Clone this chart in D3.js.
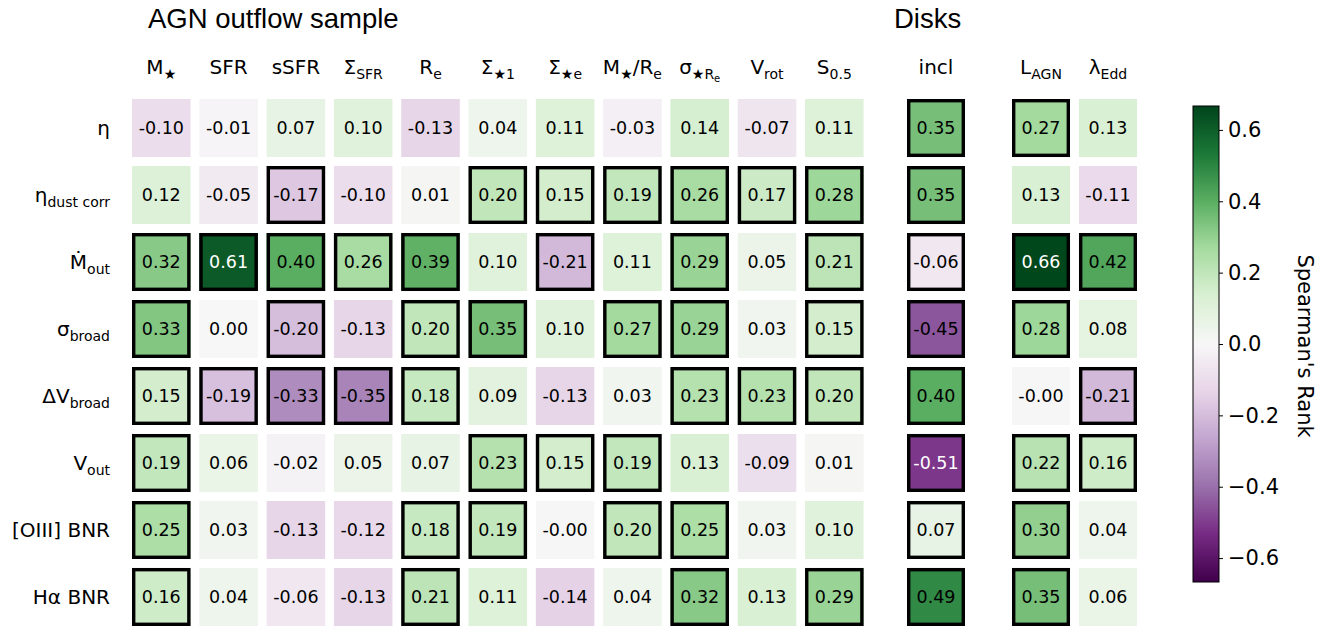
<!DOCTYPE html>
<html>
<head>
<meta charset="utf-8">
<script src="https://cdn.jsdelivr.net/npm/d3@7"></script>
<style>
  html, body { margin: 0; padding: 0; background: #ffffff; }
  svg { display: block; }
</style>
</head>
<body>
<svg id="chart" width="1332" height="632"></svg>
<script>
// ---------------- DATA ----------------
// row labels: [main, subscript]
const rowLabels = [
  ["η", ""], ["η", "dust corr"], ["Ṁ", "out"], ["σ", "broad"],
  ["ΔV", "broad"], ["V", "out"], ["[OIII] BNR", ""], ["Hα BNR", ""]
];
// column labels as [text, kind] pieces
const mainCols = [
  [["M",""],["★","sub"]],
  [["SFR",""]],
  [["sSFR",""]],
  [["Σ",""],["SFR","sub"]],
  [["R",""],["e","sub"]],
  [["Σ",""],["★1","sub"]],
  [["Σ",""],["★e","sub"]],
  [["M",""],["★","sub"],["/R","up"],["e","sub"]],
  [["σ",""],["★R","sub"],["e","subsub"]],
  [["V",""],["rot","sub"]],
  [["S",""],["0.5","sub"]]
];
const diskCols = [ [["incl",""]] ];
const agnCols = [
  [["L",""],["AGN","sub"]],
  [["λ",""],["Edd","sub"]]
];

// Spearman's rank values (rows x columns)
const mainValues = [
  [-0.10, -0.01,  0.07,  0.10, -0.13, 0.04,  0.11, -0.03, 0.14, -0.07, 0.11],
  [ 0.12, -0.05, -0.17, -0.10,  0.01, 0.20,  0.15,  0.19, 0.26,  0.17, 0.28],
  [ 0.32,  0.61,  0.40,  0.26,  0.39, 0.10, -0.21,  0.11, 0.29,  0.05, 0.21],
  [ 0.33,  0.00, -0.20, -0.13,  0.20, 0.35,  0.10,  0.27, 0.29,  0.03, 0.15],
  [ 0.15, -0.19, -0.33, -0.35,  0.18, 0.09, -0.13,  0.03, 0.23,  0.23, 0.20],
  [ 0.19,  0.06, -0.02,  0.05,  0.07, 0.23,  0.15,  0.19, 0.13, -0.09, 0.01],
  [ 0.25,  0.03, -0.13, -0.12,  0.18, 0.19, -0.002, 0.20, 0.25,  0.03, 0.10],
  [ 0.16,  0.04, -0.06, -0.13,  0.21, 0.11, -0.14,  0.04, 0.32,  0.13, 0.29]
];
const mainSignificant = [
  [0,0,0,0,0,0,0,0,0,0,0],
  [0,0,1,0,0,1,1,1,1,1,1],
  [1,1,1,1,1,0,1,0,1,0,1],
  [1,0,1,0,1,1,0,1,1,0,1],
  [1,1,1,1,1,0,0,0,1,1,1],
  [1,0,0,0,0,1,1,1,0,0,0],
  [1,0,0,0,1,1,0,1,1,0,0],
  [1,0,0,0,1,0,0,0,1,0,1]
];
const diskValues = [[0.35],[0.35],[-0.06],[-0.45],[0.40],[-0.51],[0.07],[0.49]];
const diskSignificant = [[1],[1],[1],[1],[1],[1],[1],[1]];
const agnValues = [
  [0.27, 0.13], [0.13, -0.11], [0.66, 0.42], [0.28, 0.08],
  [-0.002, -0.21], [0.22, 0.16], [0.30, 0.04], [0.35, 0.06]
];
const agnSignificant = [
  [1,0],[0,0],[1,1],[1,0],[0,1],[1,1],[1,0],[1,0]
];
const colorbarTicks = [-0.6, -0.4, -0.2, 0.0, 0.2, 0.4, 0.6];
const colorLimit = 0.667;
const groupTitles = ["AGN outflow sample", "Disks"];
const colorbarLabel = "Spearman's Rank";
// PRGn palette (ColorBrewer, as in matplotlib)
const prgn = ["#40004b","#762a83","#9970ab","#c2a5cf","#e7d4e8","#f7f7f7",
              "#d9f0d3","#a6dba0","#5aae61","#1b7837","#00441b"];

// ---------------- DRAW ----------------
const svg = d3.select("#chart");
const FONT = "'DejaVu Sans', Verdana, sans-serif";
const TFONT = "'Liberation Sans', Arial, sans-serif";

const color = d3.scaleLinear()
  .domain(d3.range(prgn.length).map(i => -colorLimit + i * 2 * colorLimit / (prgn.length - 1)))
  .range(prgn)
  .interpolate(d3.interpolateRgb)
  .clamp(true);

const pad = 0.134;
const rowIdx = d3.range(rowLabels.length);
const y = d3.scaleBand().domain(rowIdx).range([99, 626]).paddingInner(pad).paddingOuter(0);
const xMain = d3.scaleBand().domain(d3.range(mainCols.length)).range([132, 863.6]).paddingInner(0.13).paddingOuter(0);
const xDisk = d3.scaleBand().domain([0]).range([907, 965]).paddingInner(0).paddingOuter(0);
const xAgn = d3.scaleBand().domain(d3.range(agnCols.length)).range([1012, 1137]).paddingInner(pad).paddingOuter(0);

function fmt(v) {
  const s = Math.abs(v).toFixed(2);
  return (v < 0 || Object.is(v, -0)) ? "-" + s : s;
}

function drawBlock(xs, values, sig, cols) {
  const cells = [];
  values.forEach((row, r) => row.forEach((v, c) => cells.push({r, c, v, s: sig[r][c]})));
  const g = svg.append("g");
  const cg = g.selectAll("g.cell").data(cells).enter().append("g");
  cg.append("rect")
    .attr("x", d => xs(d.c))
    .attr("y", d => y(d.r))
    .attr("width", xs.bandwidth())
    .attr("height", y.bandwidth())
    .attr("fill", d => color(d.v));
  cg.filter(d => d.s).append("rect")
    .attr("x", d => xs(d.c) + 1.7)
    .attr("y", d => y(d.r) + 1.7)
    .attr("width", xs.bandwidth() - 3.4)
    .attr("height", y.bandwidth() - 3.4)
    .attr("fill", "none")
    .attr("stroke", "#000")
    .attr("stroke-width", 3.4);
  cg.append("text")
    .attr("x", d => xs(d.c) + xs.bandwidth() / 2)
    .attr("y", d => y(d.r) + y.bandwidth() / 2)
    .attr("dy", "0.36em")
    .attr("text-anchor", "middle")
    .attr("font-family", FONT)
    .attr("font-size", 17.5)
    .attr("fill", d => Math.abs(d.v) >= 0.5 ? "#ffffff" : "#000000")
    .text(d => fmt(d.v));

  // column headers
  cols.forEach((parts, c) => {
    const t = svg.append("text")
      .attr("x", xs(c) + xs.bandwidth() / 2)
      .attr("y", 74)
      .attr("text-anchor", "middle")
      .attr("font-family", FONT)
      .attr("font-size", 20)
      .attr("fill", "#000");
    let level = 0;
    parts.forEach(([txt, kind]) => {
      const sp = t.append("tspan").text(txt);
      let target = 0, size = 20;
      if (kind === "sub") { target = 5; size = 14; }
      else if (kind === "subsub") { target = 8; size = 10; }
      sp.attr("dy", target - level).attr("font-size", size);
      level = target;
    });
  });
}

drawBlock(xMain, mainValues, mainSignificant, mainCols);
drawBlock(xDisk, diskValues, diskSignificant, diskCols);
drawBlock(xAgn, agnValues, agnSignificant, agnCols);

// row labels
rowLabels.forEach(([main, sub], r) => {
  const t = svg.append("text")
    .attr("x", 110)
    .attr("y", y(r) + y.bandwidth() / 2 + 7)
    .attr("text-anchor", "end")
    .attr("font-family", FONT)
    .attr("font-size", 20)
    .attr("fill", "#000");
  t.append("tspan").text(main);
  if (sub) t.append("tspan").attr("dy", 5).attr("font-size", 14).text(sub);
});

// group titles
svg.append("text").attr("x", 148).attr("y", 28)
  .attr("font-family", TFONT).attr("font-size", 27.5)
  .text(groupTitles[0]);
svg.append("text").attr("x", 894).attr("y", 28)
  .attr("font-family", TFONT).attr("font-size", 27.5)
  .text(groupTitles[1]);

// colorbar
const cbX = 1193, cbW = 26, cbTop = 106, cbBot = 582;
const cbScale = d3.scaleLinear().domain([-colorLimit, colorLimit]).range([cbBot, cbTop]);
const defs = svg.append("defs");
const grad = defs.append("linearGradient").attr("id", "cbgrad")
  .attr("x1", 0).attr("y1", 1).attr("x2", 0).attr("y2", 0);
d3.range(0, 1.0001, 0.02).forEach(t => {
  grad.append("stop").attr("offset", t)
    .attr("stop-color", color(-colorLimit + t * 2 * colorLimit));
});
svg.append("rect").attr("x", cbX).attr("y", cbTop).attr("width", cbW).attr("height", cbBot - cbTop)
  .attr("fill", "url(#cbgrad)").attr("stroke", "#000").attr("stroke-width", 1);

const cbAxis = d3.axisRight(cbScale).tickValues(colorbarTicks)
  .tickFormat(d3.format(".1f")).tickSize(4).tickPadding(5);
const ag = svg.append("g").attr("transform", `translate(${cbX + cbW},0)`).call(cbAxis);
ag.select(".domain").remove();
ag.selectAll("text").attr("font-family", FONT).attr("font-size", 21).attr("fill", "#000");
ag.selectAll("line").attr("stroke", "#000");

svg.append("text")
  .attr("transform", `translate(1298,${(cbTop + cbBot) / 2 + 2}) rotate(90)`)
  .attr("text-anchor", "middle")
  .attr("font-family", FONT).attr("font-size", 21)
  .text(colorbarLabel);
</script>
</body>
</html>
